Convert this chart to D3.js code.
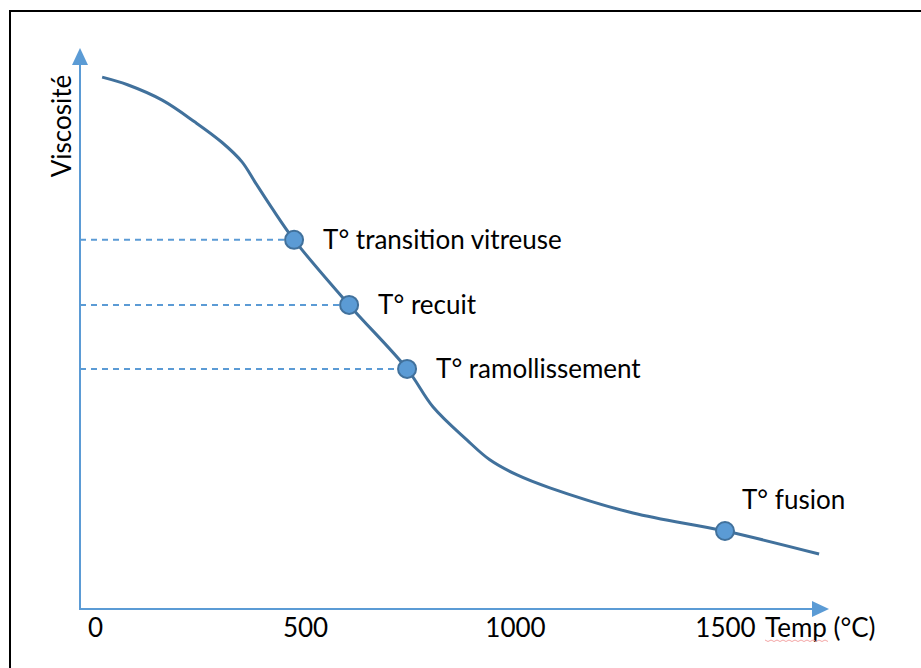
<!DOCTYPE html>
<html>
<head>
<meta charset="utf-8">
<script src="https://cdn.jsdelivr.net/npm/d3@7"></script>
<style>
  body { margin: 0; background: #fff; }
  text { font-family: Lato, "Open Sans", sans-serif; fill: #000; }
</style>
</head>
<body>
<div id="main"></div>
<script>
var width = 921, height = 668;

// curve: temperature (°C), viscosity (arbitrary units)
var curveTemp = [17, 79, 160, 238, 302, 350, 381, 421, 474, 605, 743, 805, 886, 940, 1005, 1083, 1281, 1500, 1724];
var curveVisc = [94.8, 93.4, 90.7, 86.8, 83.2, 79.7, 76.1, 71.5, 65.8, 54.2, 42.8, 36.0, 30.1, 26.6, 23.9, 21.6, 17.1, 13.9, 9.8];

// named points
var pointNames = ["T° transition vitreuse", "T° recuit", "T° ramollissement", "T° fusion"];
var pointTemp = [474, 605, 743, 1500];
var pointVisc = [65.8, 54.2, 42.8, 13.9];
var dashedTo = [true, true, true, false];

var tickValues = [0, 500, 1000, 1500];

var svg = d3.select("#main")
  .append("svg")
  .attr("width", width)
  .attr("height", height);

var x = d3.scaleLinear().domain([0, 1500]).range([95, 725]);
var y = d3.scaleLinear().domain([0, 100]).range([609, 48]);

var axisX = 80, axisY = y(0);
var blue = "#5b9bd5", dark = "#41719c";

// frame
svg.append("rect")
  .attr("x", 10).attr("y", 11)
  .attr("width", 930).attr("height", 680)
  .style("fill", "none").style("stroke", "#000").style("stroke-width", 2);

// dashed guides
svg.selectAll(".guide")
  .data(d3.range(pointNames.length).filter(i => dashedTo[i]))
  .enter()
  .append("line")
  .attr("x1", axisX).attr("x2", i => x(pointTemp[i]))
  .attr("y1", i => y(pointVisc[i])).attr("y2", i => y(pointVisc[i]))
  .style("stroke", blue).style("stroke-width", 2)
  .style("stroke-dasharray", "6,5");

// axes with arrowheads
svg.append("line")
  .attr("x1", axisX).attr("y1", axisY).attr("x2", axisX).attr("y2", 64)
  .style("stroke", blue).style("stroke-width", 2);
svg.append("path")
  .attr("d", "M" + (axisX - 8) + ",65L" + axisX + ",48L" + (axisX + 8) + ",65Z")
  .style("fill", blue);
svg.append("line")
  .attr("x1", axisX - 1).attr("y1", axisY).attr("x2", 813).attr("y2", axisY)
  .style("stroke", blue).style("stroke-width", 2);
svg.append("path")
  .attr("d", "M812," + (axisY - 8) + "L829," + axisY + "L812," + (axisY + 8) + "Z")
  .style("fill", blue);

// tick labels
var gx = svg.append("g")
  .attr("transform", "translate(0," + axisY + ")")
  .call(d3.axisBottom(x).tickValues(tickValues).tickSize(0).tickPadding(9.5).tickFormat(d3.format("d")));
gx.select(".domain").remove();
gx.selectAll("text").style("font-size", "26px").style("font-family", "Lato, sans-serif").attr("fill", "#000");

// axis titles
svg.append("text")
  .attr("x", 765).attr("y", 637)
  .style("font-size", "26px")
  .text("Temp (°C)");
svg.append("path")
  .attr("d", d3.range(0, 66, 3).map((d, i) => (i ? "L" : "M") + (765 + d) + "," + (640 + (i % 2 ? 1.5 : 0))).join(""))
  .style("fill", "none").style("stroke", "#f4a6a6").style("stroke-width", 1);

svg.append("text")
  .attr("transform", "translate(71,126) rotate(-90)")
  .style("text-anchor", "middle")
  .style("font-size", "26px")
  .text("Viscosité");

// curve
var line = d3.line()
  .x((d, i) => x(curveTemp[i]))
  .y((d, i) => y(curveVisc[i]))
  .curve(d3.curveCatmullRom.alpha(0.5));
svg.append("path")
  .datum(curveTemp)
  .attr("d", line)
  .style("fill", "none").style("stroke", dark).style("stroke-width", 3);

// points and labels
var pts = svg.selectAll(".pt")
  .data(d3.range(pointNames.length))
  .enter()
  .append("g")
  .attr("transform", i => "translate(" + x(pointTemp[i]) + "," + y(pointVisc[i]) + ")");
pts.append("circle")
  .attr("r", 9)
  .style("fill", blue).style("stroke", dark).style("stroke-width", 2);
pts.append("text")
  .attr("x", i => dashedTo[i] ? 29 : 17)
  .attr("y", i => dashedTo[i] ? 9 : -22)
  .style("font-size", "26px")
  .text(i => pointNames[i]);
</script>
</body>
</html>
